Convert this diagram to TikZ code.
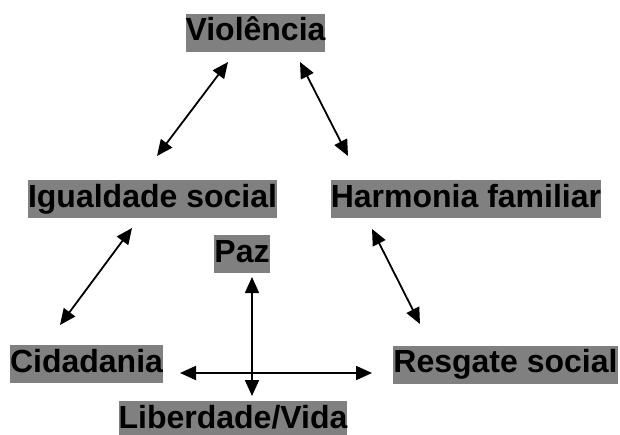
\documentclass[tikz,border=0pt]{standalone}
\usepackage{fontspec}
\setmainfont{Liberation Sans}
\usetikzlibrary{arrows.meta}
\definecolor{boxgray}{RGB}{128,128,128}
\tikzset{%
graynode/.style={fill=boxgray, inner xsep=0pt, inner ysep=0pt,
  text height=27pt, text depth=11pt, font=\fontsize{32}{38}\selectfont\bfseries},
dbl/.style={draw=black, line width=1.8pt, {Triangle[length=16pt,width=14pt]}-{Triangle[length=16pt,width=14pt]}}
}
\begin{document}
\begin{tikzpicture}[x=1pt, y=-1pt]
	\useasboundingbox (0,0) rectangle (620,434);
	\node[graynode] (violencia) at (255.5,32.5) {Violência};
	\node[graynode] (igualdade) at (152.5,199) {Igualdade social};
	\node[graynode] (harmonia) at (466,199) {Harmonia familiar};
	\node[graynode] (paz) at (242,254) {Paz};
	\node[graynode] (cidadania) at (86.5,364) {Cidadania};
	\node[graynode] (resgate) at (505.5,364.5) {Resgate social};
	\node[graynode] (liberdade) at (233,420) {Liberdade/Vida};
	% ends of the arrows
	\coordinate (vi1) at (228,62);
	\coordinate (ig1) at (157,156);
	\coordinate (vi2) at (300,62);
	\coordinate (ha1) at (348,156);
	\coordinate (ig2) at (132,228);
	\coordinate (ci1) at (60,325);
	\coordinate (ha2) at (372,229);
	\coordinate (re1) at (420,324);
	\coordinate (pa1) at (252,277);
	\coordinate (li1) at (252,396);
	\coordinate (ci2) at (180,373);
	\coordinate (re2) at (372,373);
	\draw[dbl] (vi1) -- (ig1);
	\draw[dbl] (vi2) -- (ha1);
	\draw[dbl] (ig2) -- (ci1);
	\draw[dbl] (ha2) -- (re1);
	\draw[dbl] (pa1) -- (li1);
	\draw[dbl] (ci2) -- (re2);
\end{tikzpicture}
\end{document}
